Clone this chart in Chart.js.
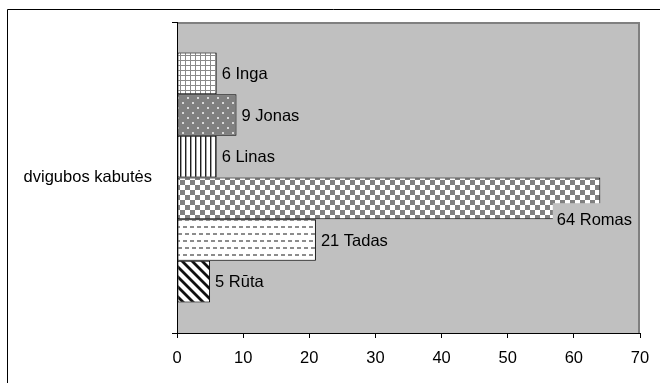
<!DOCTYPE html>
<html>
<head>
<meta charset="utf-8">
<script src="https://cdn.jsdelivr.net/npm/chart.js@4/dist/chart.umd.min.js"></script>
<style>
  html, body { margin: 0; padding: 0; background: #ffffff; }
  #wrap { width: 660px; height: 383px; position: relative; }
</style>
</head>
<body>
<div id="wrap"><canvas id="c" width="660" height="383"></canvas></div>
<script>
// Chart data
const categories = ['dvigubos kabutės'];
const seriesNames = ['Inga', 'Jonas', 'Linas', 'Romas', 'Tadas', 'Rūta'];
const seriesValues = [6, 9, 6, 64, 21, 5];
const xTickMin = 0;
const xTickMax = 70;
const xTickStep = 10;

const FONT = "'Liberation Sans', Arial, sans-serif";
const FONT_SIZE = 16.5;

// Small tiled fill patterns for the bars
const probe = document.createElement('canvas').getContext('2d');
function tile(w, h, paint) {
  const c = document.createElement('canvas');
  c.width = w; c.height = h;
  paint(c.getContext('2d'), w, h);
  return probe.createPattern(c, 'repeat');
}

const patterns = {
  // small grid
  Inga: tile(5, 5, (g, w, h) => {
    g.fillStyle = '#ffffff'; g.fillRect(0, 0, w, h);
    g.fillStyle = '#8a8a8a'; g.fillRect(0, 0, w, 1); g.fillRect(0, 0, 1, h);
  }),
  // dark grey with light dots
  Jonas: tile(10, 10, (g, w, h) => {
    g.fillStyle = '#808080'; g.fillRect(0, 0, w, h);
    g.fillStyle = '#d8d8d8'; g.fillRect(2, 2, 2, 2); g.fillRect(7, 7, 2, 2);
  }),
  // vertical lines
  Linas: tile(5, 5, (g, w, h) => {
    g.fillStyle = '#ffffff'; g.fillRect(0, 0, w, h);
    g.fillStyle = '#202020'; g.fillRect(0, 0, 1, h);
    g.fillStyle = '#a0a0a0'; g.fillRect(1, 0, 1, h);
  }),
  // checkerboard
  Romas: tile(10, 10, (g, w, h) => {
    g.fillStyle = '#ffffff'; g.fillRect(0, 0, w, h);
    g.fillStyle = '#808080'; g.fillRect(0, 0, 5, 5); g.fillRect(5, 5, 5, 5);
  }),
  // dashed horizontal lines
  Tadas: tile(14, 14, (g, w, h) => {
    g.fillStyle = '#ffffff'; g.fillRect(0, 0, w, h);
    g.fillStyle = '#8c8c8c';
    g.fillRect(1, 2, 4, 2); g.fillRect(8, 2, 4, 2);
    g.fillRect(3, 9, 4, 2); g.fillRect(10, 9, 4, 2);
  }),
  // wide downward diagonal stripes
  'Rūta': tile(10, 10, (g, w, h) => {
    g.fillStyle = '#ffffff'; g.fillRect(0, 0, w, h);
    for (let y = 0; y < h; y++) {
      for (let x = 0; x < w; x++) {
        const d = ((x - y) % 10 + 10) % 10;
        if (d <= 2) { g.fillStyle = '#111111'; g.fillRect(x, y, 1, 1); }
        else if (d === 3 || d === 9) { g.fillStyle = '#8c8c8c'; g.fillRect(x, y, 1, 1); }
      }
    }
  })
};

// Frame, plot background and plot border
const framePlugin = {
  id: 'frame',
  beforeDraw(chart) {
    const ctx = chart.ctx, a = chart.chartArea;
    ctx.save();
    ctx.fillStyle = '#ffffff';
    ctx.fillRect(0, 0, chart.width, chart.height);
    ctx.fillStyle = '#C0C0C0';
    ctx.fillRect(a.left, a.top, a.right - a.left, a.bottom - a.top);
    ctx.strokeStyle = '#000000';
    ctx.lineWidth = 1;
    ctx.beginPath();
    ctx.moveTo(7.5, chart.height);
    ctx.lineTo(7.5, 9.5);
    ctx.lineTo(chart.width, 9.5);
    ctx.stroke();
    ctx.strokeStyle = '#808080';
    ctx.lineWidth = 2;
    ctx.beginPath();
    ctx.moveTo(a.left, a.top + 1);
    ctx.lineTo(a.right - 1, a.top + 1);
    ctx.lineTo(a.right - 1, a.bottom);
    ctx.stroke();
    ctx.restore();
  }
};

// Value + name labels at the end of each bar
const labelPlugin = {
  id: 'barLabels',
  afterDatasetsDraw(chart) {
    const ctx = chart.ctx, a = chart.chartArea;
    ctx.save();
    ctx.font = FONT_SIZE + 'px ' + FONT;
    ctx.textBaseline = 'middle';
    ctx.textAlign = 'left';
    chart.data.datasets.forEach((ds, i) => {
      chart.getDatasetMeta(i).data.forEach((bar, j) => {
        const text = ds.data[j] + ' ' + ds.label;
        const w = ctx.measureText(text).width;
        let x = bar.x + 5, y = bar.y;
        if (x + w > a.right - 4) {
          // no room past the bar end: tuck the label into the lower right corner
          x = a.right - 8 - w;
          y = bar.y + bar.height / 2;
          ctx.fillStyle = '#C0C0C0';
          ctx.fillRect(x - 4, y - 16, a.right - 2 - (x - 4), 30);
        }
        ctx.fillStyle = '#000000';
        ctx.fillText(text, x, y + 1);
      });
    });
    ctx.restore();
  }
};

new Chart(document.getElementById('c'), {
  type: 'bar',
  data: {
    labels: categories,
    datasets: seriesNames.map((name, i) => ({
      label: name,
      data: [seriesValues[i]],
      backgroundColor: patterns[name],
      borderColor: '#000000',
      borderWidth: 1,
      borderSkipped: false
    }))
  },
  options: {
    indexAxis: 'y',
    responsive: false,
    animation: false,
    devicePixelRatio: 1,
    datasets: { bar: { barPercentage: 1, categoryPercentage: 0.804 } },
    layout: { padding: { left: 0, top: 22, right: 20, bottom: 0 } },
    plugins: { legend: { display: false }, tooltip: { enabled: false } },
    scales: {
      x: {
        min: xTickMin,
        max: xTickMax,
        afterFit(s) { s.height = 50; s.paddingLeft = 0; s.paddingRight = 0; },
        ticks: { stepSize: xTickStep, color: '#000000', font: { family: FONT, size: FONT_SIZE }, padding: 11 },
        grid: { drawOnChartArea: false, drawTicks: true, tickLength: 5, color: '#000000' },
        border: { color: '#000000', width: 1 }
      },
      y: {
        afterFit(s) { s.width = 177; s.paddingTop = 0; s.paddingBottom = 0; },
        ticks: { color: '#000000', font: { family: FONT, size: FONT_SIZE }, padding: 20 },
        grid: { offset: true, drawOnChartArea: false, drawTicks: true, tickLength: 5, color: '#000000' },
        border: { color: '#000000', width: 1 }
      }
    }
  },
  plugins: [framePlugin, labelPlugin]
});
</script>
</body>
</html>
